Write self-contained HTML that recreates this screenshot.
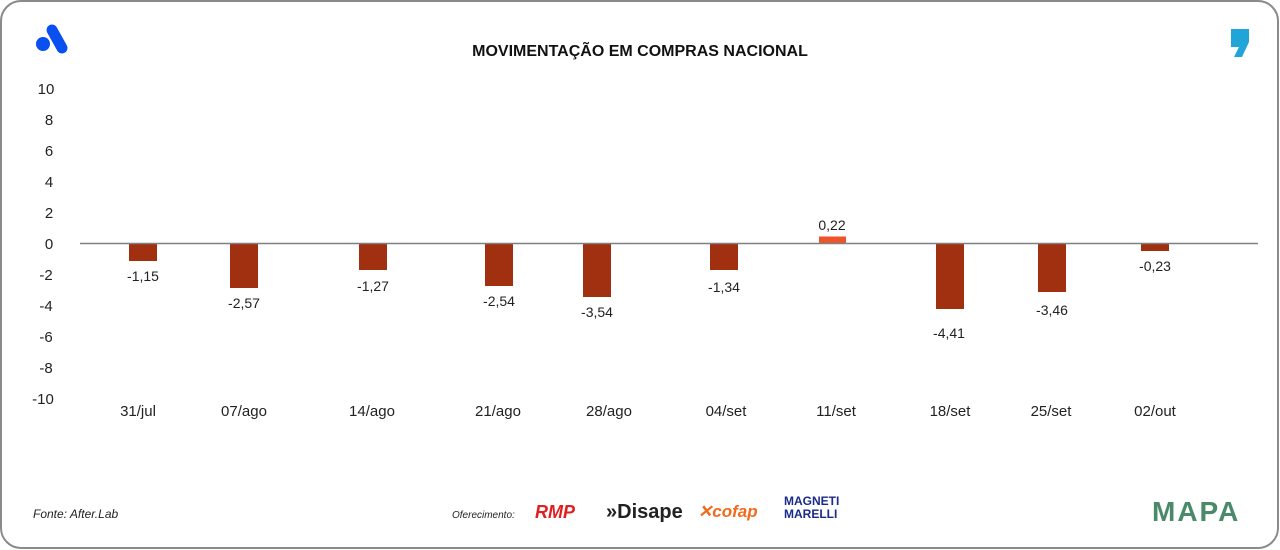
<!DOCTYPE html>
<html><head><meta charset="utf-8"><style>
body{margin:0;background:#fff;}
svg{display:block;font-family:"Liberation Sans",sans-serif;}
</style></head><body>
<svg width="1280" height="550" viewBox="0 0 1280 550">
<rect x="1" y="1" width="1277" height="547" rx="20" fill="#fff" stroke="#8a8a8a" stroke-width="2"/>
<!-- logo left -->
<circle cx="43" cy="44" r="7" fill="#0a4ff0"/>
<line x1="52" y1="30" x2="62" y2="48" stroke="#0a4ff0" stroke-width="11" stroke-linecap="round"/>
<!-- logo right -->
<path d="M1231 29h18v13l-7 15h-8l5-10h-8z" fill="#21a5d8"/>
<text x="640" y="56" text-anchor="middle" font-size="16" font-weight="bold" fill="#111">MOVIMENTAÇÃO EM COMPRAS NACIONAL</text>
<g font-size="15" fill="#222" text-anchor="middle">
<text x="46" y="94">10</text><text x="49" y="125">8</text><text x="49" y="156">6</text><text x="49" y="187">4</text><text x="49" y="218">2</text><text x="49" y="249">0</text><text x="46" y="280">-2</text><text x="46" y="311">-4</text><text x="46" y="342">-6</text><text x="46" y="373">-8</text><text x="43" y="404">-10</text>
</g>
<g fill="#a0300f">
<rect x="129" y="244" width="28" height="17"/>
<rect x="230" y="244" width="28" height="44"/>
<rect x="359" y="244" width="28" height="26"/>
<rect x="485" y="244" width="28" height="42"/>
<rect x="583" y="244" width="28" height="53"/>
<rect x="710" y="244" width="28" height="26"/>
<rect x="936" y="244" width="28" height="65"/>
<rect x="1038" y="244" width="28" height="48"/>
<rect x="1141" y="244" width="28" height="7"/>
</g>
<rect x="819" y="236.5" width="27" height="7" fill="#f0522a"/>
<line x1="80" y1="243.5" x2="1258" y2="243.5" stroke="#808080" stroke-width="1.5"/>
<g font-size="14" fill="#222" text-anchor="middle">
<text x="143" y="281">-1,15</text>
<text x="244" y="308">-2,57</text>
<text x="373" y="291">-1,27</text>
<text x="499" y="306">-2,54</text>
<text x="597" y="317">-3,54</text>
<text x="724" y="292">-1,34</text>
<text x="832" y="230">0,22</text>
<text x="949" y="338">-4,41</text>
<text x="1052" y="315">-3,46</text>
<text x="1155" y="271">-0,23</text>
</g>
<g font-size="15" fill="#222" text-anchor="middle">
<text x="138" y="416">31/jul</text><text x="244" y="416">07/ago</text><text x="372" y="416">14/ago</text><text x="498" y="416">21/ago</text><text x="609" y="416">28/ago</text><text x="726" y="416">04/set</text><text x="836" y="416">11/set</text><text x="950" y="416">18/set</text><text x="1051" y="416">25/set</text><text x="1155" y="416">02/out</text>
</g>
<text x="33" y="518" font-size="12" font-style="italic" fill="#222">Fonte: After.Lab</text>
<text x="452" y="518" font-size="10" font-style="italic" fill="#222">Oferecimento:</text>
<text x="535" y="518" font-size="18" font-weight="bold" font-style="italic" fill="#e02020">RMP</text>
<text x="606" y="518" font-size="20" font-weight="bold" fill="#222">»Disape</text>
<text x="698" y="517" font-size="17" font-weight="bold" font-style="italic" fill="#f26a1b">✕cofap</text>
<text x="784" y="505" font-size="12" font-weight="bold" fill="#1a2a8a">MAGNETI</text>
<text x="784" y="518" font-size="12" font-weight="bold" fill="#1a2a8a">MARELLI</text>
<text x="1152" y="521" font-size="28" font-weight="bold" fill="#4a8a6a" letter-spacing="2">MAPA</text>
</svg>
</body></html>
